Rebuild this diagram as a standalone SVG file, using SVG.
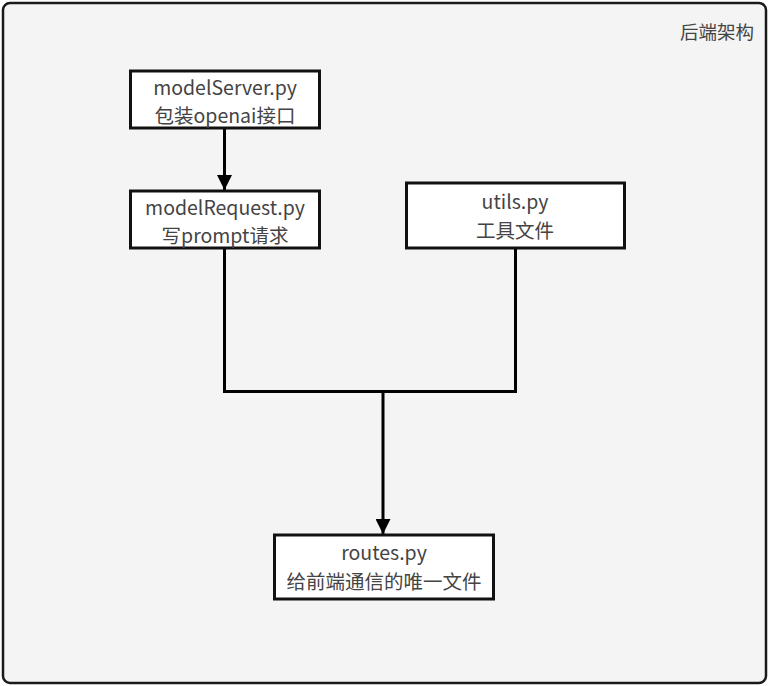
<svg xmlns="http://www.w3.org/2000/svg" width="770" height="686" viewBox="0 0 770 686">
<defs>
<style>
.frame{fill:#f4f4f4;stroke:#1a1a1a;stroke-width:2.5}
.box{fill:#ffffff;stroke:#111;stroke-width:3}
.t{font-family:"Noto Sans CJK SC","Noto Sans",sans-serif;font-size:19.5px;fill:#444;text-anchor:middle}
.title{font-family:"Noto Sans CJK SC","Noto Sans",sans-serif;font-size:18.5px;fill:#444;text-anchor:end}
.c{fill:none;stroke:#000;stroke-width:3}
</style>
<marker id="arr" viewBox="0 0 10 10" refX="10" refY="5" markerWidth="5" markerHeight="5" markerUnits="strokeWidth" orient="auto">
<path d="M0,0 L10,5 L0,10 Z" fill="#000"/>
</marker>
</defs>
<rect class="frame" x="3" y="3" width="763" height="680" rx="7"/>
<text class="title" x="754" y="39">后端架构</text>
<g id="connectors">
<line class="c" x1="224.5" y1="129" x2="224.5" y2="190" marker-end="url(#arr)"/>
<polyline class="c" points="224.5,249 224.5,391.5 515.5,391.5 515.5,249"/>
<line class="c" x1="383" y1="391.5" x2="383" y2="534" marker-end="url(#arr)"/>
</g>
<g id="modelServer">
<rect class="box" x="130.5" y="71" width="189" height="57"/>
<text class="t" x="225" y="95">modelServer.py</text>
<text class="t" x="225" y="123">包装openai接口</text>
</g>
<g id="modelRequest">
<rect class="box" x="130.5" y="191" width="189" height="57"/>
<text class="t" x="225" y="215">modelRequest.py</text>
<text class="t" x="225" y="243">写prompt请求</text>
</g>
<g id="utils">
<rect class="box" x="406.5" y="183" width="218" height="65"/>
<text class="t" x="515" y="209">utils.py</text>
<text class="t" x="515" y="238">工具文件</text>
</g>
<g id="routes">
<rect class="box" x="274.5" y="535" width="219" height="64"/>
<text class="t" x="384" y="560">routes.py</text>
<text class="t" x="384" y="589">给前端通信的唯一文件</text>
</g>
</svg>
